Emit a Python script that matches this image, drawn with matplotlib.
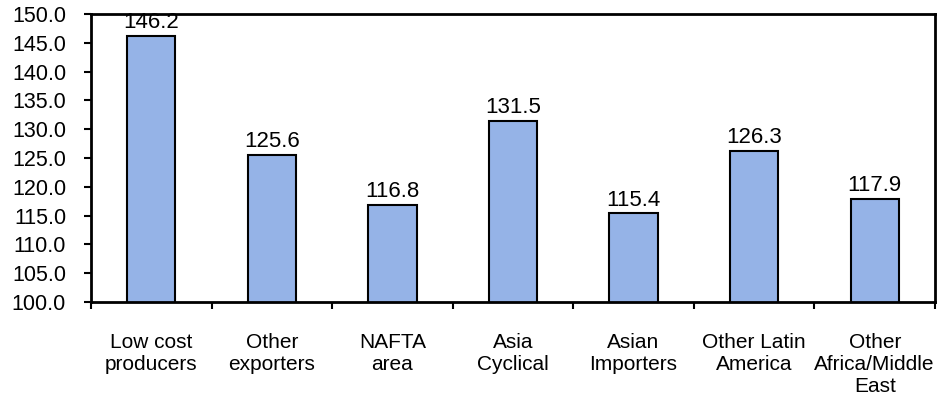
import numpy as np
import matplotlib
matplotlib.use('Agg')
import matplotlib.pyplot as plt

# ------------------------------  DATA  -----------------------------------
CATEGORIES = ['Low cost\nproducers', 'Other\nexporters', 'NAFTA\narea',
              'Asia\nCyclical', 'Asian\nImporters', 'Other Latin\nAmerica',
              'Other\nAfrica/Middle\nEast']
VALUES = [146.2, 125.6, 116.8, 131.5, 115.4, 126.3, 117.9]
YTICKS = np.arange(100, 151, 5)

# ------------------------------  MAIN BODY  -----------------------------
plt.rcParams['font.family'] = ['Liberation Sans', 'DejaVu Sans']

fig = plt.figure(figsize=(9.45, 4.0), dpi=100)
ax = fig.add_axes([0.0963, 0.245, 0.8931, 0.72])

x = np.arange(len(VALUES))
bars = ax.bar(x, VALUES, width=0.4, bottom=0, color='#95B3E7',
              edgecolor='black', linewidth=1.5, zorder=2)

# value labels above the bars
for xi, v in zip(x, VALUES):
    ax.annotate('%.1f' % v, (xi, v), xytext=(0, 2), textcoords='offset points',
                ha='center', va='bottom', fontsize=16, annotation_clip=False)

ax.set_xlim(-0.5, len(VALUES) - 0.5)
ax.set_ylim(100, 150)
ax.set_yticks(YTICKS)
ax.set_yticklabels(['%.1f' % t for t in YTICKS])

# ticks at category boundaries, labels at category centres
ax.set_xticks(np.arange(len(VALUES) + 1) - 0.5)
ax.set_xticklabels([])
ax.set_xticks(x, minor=True)
ax.set_xticklabels(CATEGORIES, minor=True)
ax.tick_params(axis='x', which='major', direction='out', length=5, width=1.5)
ax.tick_params(axis='x', which='minor', length=0, pad=22, labelsize=15)
ax.tick_params(axis='y', direction='out', length=5, width=1.5, pad=13,
               labelsize=15.5)

for s in ax.spines.values():
    s.set_linewidth(2)

fig.savefig('out.png', dpi=100)
print('Done!')
# ------------------------------ END -----------------------------------
